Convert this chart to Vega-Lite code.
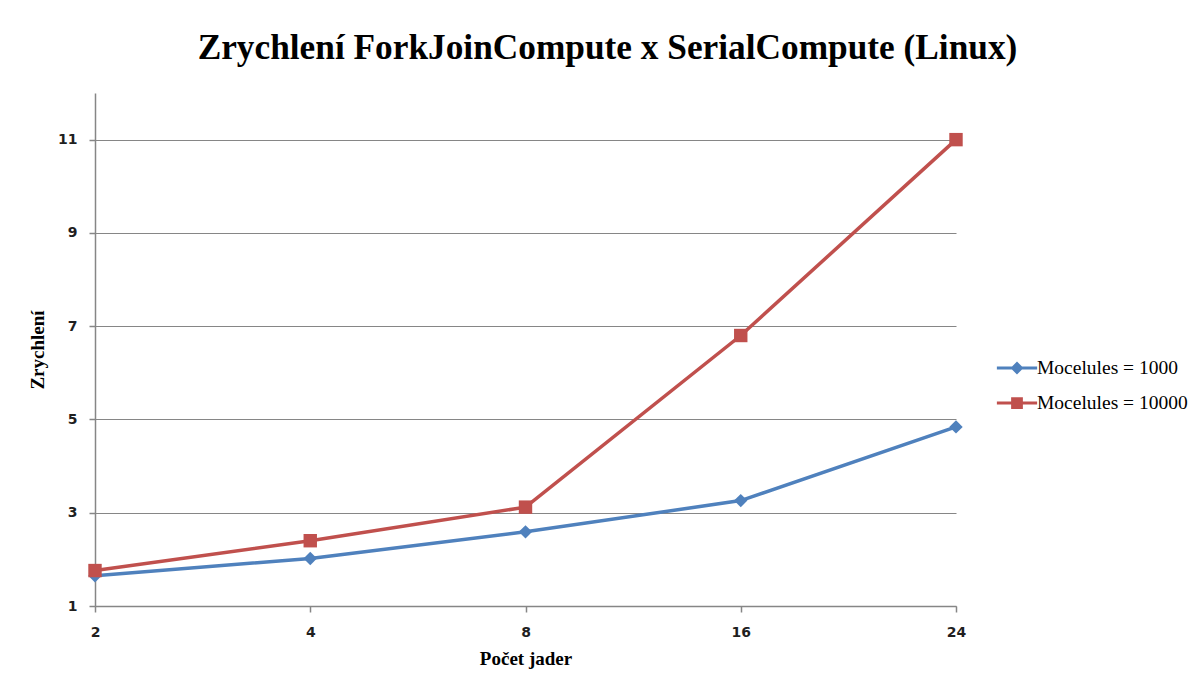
{
  "$schema": "https://vega.github.io/schema/vega-lite/v6.json",
  "width": 861,
  "height": 513,
  "autosize": "none",
  "padding": {"left": 95, "top": 93, "right": 242, "bottom": 83},
  "background": "white",
  "config": {"view": {"stroke": null}},
  "title": {
    "text": "Zrychlení ForkJoinCompute x SerialCompute (Linux)",
    "font": "Liberation Serif",
    "fontSize": 35.3,
    "fontWeight": "bold",
    "color": "black",
    "anchor": "middle",
    "dx": 82,
    "offset": 27
  },
  "data": {
    "values": [
      {"cores": "2", "series": "Mocelules = 1000", "speedup": 1.65},
      {"cores": "4", "series": "Mocelules = 1000", "speedup": 2.02},
      {"cores": "8", "series": "Mocelules = 1000", "speedup": 2.59},
      {"cores": "16", "series": "Mocelules = 1000", "speedup": 3.26},
      {"cores": "24", "series": "Mocelules = 1000", "speedup": 4.84},
      {"cores": "2", "series": "Mocelules = 10000", "speedup": 1.76},
      {"cores": "4", "series": "Mocelules = 10000", "speedup": 2.4},
      {"cores": "8", "series": "Mocelules = 10000", "speedup": 3.12},
      {"cores": "16", "series": "Mocelules = 10000", "speedup": 6.8},
      {"cores": "24", "series": "Mocelules = 10000", "speedup": 11.0}
    ]
  },
  "encoding": {
    "x": {
      "field": "cores",
      "type": "ordinal",
      "sort": null,
      "scale": {"type": "point", "padding": 0, "domain": ["2", "4", "8", "16", "24"]},
      "axis": {
        "grid": false,
        "domainColor": "#868686",
        "domainWidth": 1.5,
        "tickColor": "#868686",
        "tickWidth": 1.5,
        "tickSize": 6,
        "labelAngle": 0,
        "labelFont": "DejaVu Sans",
        "labelFontWeight": "bold",
        "labelFontSize": 14,
        "labelColor": "#1f1f1f",
        "labelPadding": 13,
        "title": "Počet jader",
        "titleFont": "Liberation Serif",
        "titleFontSize": 19,
        "titleFontWeight": "bold",
        "titleColor": "black",
        "titlePadding": 10
      }
    },
    "y": {
      "field": "speedup",
      "type": "quantitative",
      "scale": {"domain": [1, 12], "nice": false, "zero": false},
      "axis": {
        "values": [1, 3, 5, 7, 9, 11],
        "grid": true,
        "gridColor": "#868686",
        "gridWidth": 1.2,
        "domainColor": "#868686",
        "domainWidth": 1.5,
        "tickColor": "#868686",
        "tickWidth": 1.5,
        "tickSize": 6,
        "labelFont": "DejaVu Sans",
        "labelFontWeight": "bold",
        "labelFontSize": 14,
        "labelColor": "#1f1f1f",
        "labelPadding": 12,
        "title": "Zrychlení",
        "titleFont": "Liberation Serif",
        "titleFontSize": 19,
        "titleFontWeight": "bold",
        "titleColor": "black",
        "titlePadding": 10
      }
    },
    "color": {
      "field": "series",
      "type": "nominal",
      "scale": {"domain": ["Mocelules = 1000", "Mocelules = 10000"], "range": ["#4F81BD", "#C0504D"]},
      "legend": {
        "orient": "none",
        "legendX": 903,
        "legendY": 256,
        "title": null,
        "labelFont": "Liberation Serif",
        "labelFontSize": 19.5,
        "labelColor": "black",
        "labelLimit": 400,
        "symbolSize": 1225,
        "symbolStrokeWidth": 3,
        "rowPadding": 5,
        "labelOffset": 1,
        "encode": {
          "symbols": {
            "update": {
              "shape": {"signal": "datum.value === 'Mocelules = 1000' ? 'M-1.15,0H1.15M-0.25,0L0,-0.25L0.25,0L0,0.25Z' : 'M-1.15,0H1.15M-0.25,-0.25H0.25V0.25H-0.25Z'"},
              "fill": {"scale": "color", "field": "value"},
              "stroke": {"scale": "color", "field": "value"},
              "strokeWidth": {"value": 3},
              "opacity": {"value": 1}
            }
          }
        }
      }
    }
  },
  "layer": [
    {"mark": {"type": "line", "strokeWidth": 3.5}},
    {
      "transform": [{"filter": "datum.series === 'Mocelules = 1000'"}],
      "mark": {"type": "point", "filled": true, "opacity": 1, "size": 180, "shape": "diamond"}
    },
    {
      "transform": [{"filter": "datum.series === 'Mocelules = 10000'"}],
      "mark": {"type": "point", "filled": true, "opacity": 1, "size": 180, "shape": "square"}
    }
  ]
}
